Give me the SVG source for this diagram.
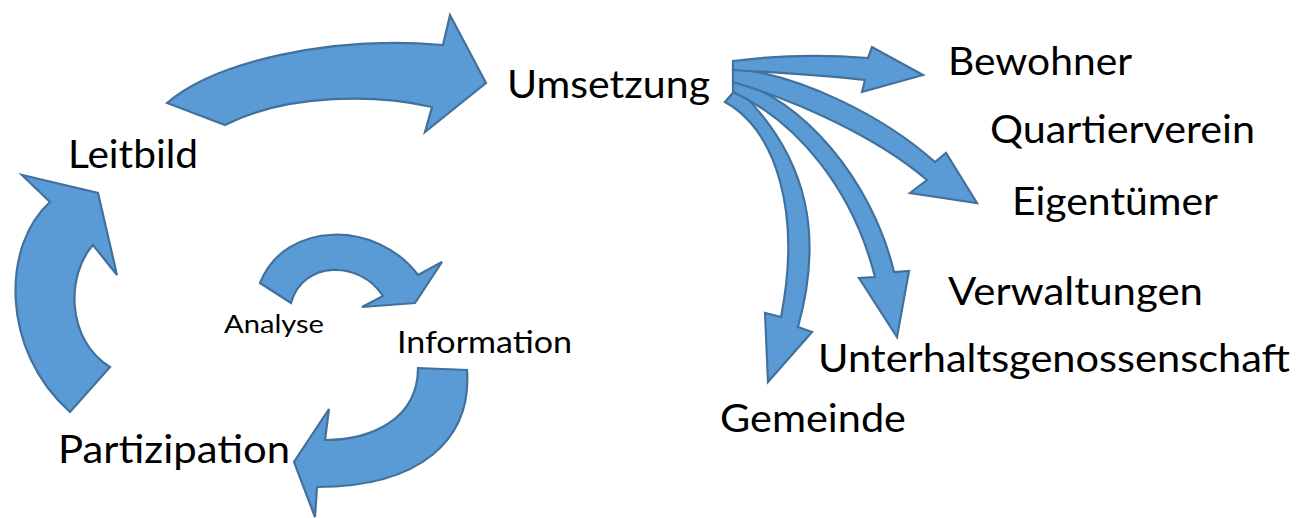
<svg xmlns="http://www.w3.org/2000/svg" width="1296" height="518" viewBox="0 0 1296 518">
<style>
.arrow{fill:#5B9BD5;stroke:#41719C;stroke-width:2.2;stroke-linejoin:miter}
.lbl{font-family:Lato,"Open Sans","Liberation Sans",sans-serif;fill:#000}
.big{font-size:39px}
.mid{font-size:30px}
.sm{font-size:25px}
</style>
<rect width="1296" height="518" fill="#fff"/>
<g id="connectors">
<path id="arr-leitbild-umsetzung" class="arrow" d="M167,103 C215,62 330,35 443,45 L450,15 L486,83 L425,132 L432,107 C380,95 290,92 225,125 Z"/>
<path id="arr-partizipation-leitbild" class="arrow" d="M50,202 C2,245 0,350 70,412 L110,367 C66,340 66,275 93,245 L117,275 L98,193 L22,175 Z"/>
<path id="arr-analyse-information" class="arrow" d="M260,283 C285,220 377,220 418,275 L442,262 L415,303 L362,307 L383,296 C360,260 303,260 291,303 Z"/>
<path id="arr-information-partizipation" class="arrow" d="M418,368 L467,370 C472,440 420,487 317,487 L315,517 L294,462 L329,409 L325,440 C370,440 418,420 418,368 Z"/>
<path id="arr-gemeinde" class="arrow" d="M725,102 C775,130 802,210 781,317 L765,313 L768,382 L812,332 L798,327 C822,240 812,160 737,88 Z"/>
<path id="arr-unterhalt" class="arrow" d="M733,80 C802,98 872,180 894,272 L909,271 L897,337 L859,278 L875,277 C853,190 798,122 733,92 Z"/>
<path id="arr-eigentuemer" class="arrow" d="M733,68 C802,76 882,115 935,162 L946,153 L977,203 L910,193 L927,180 C878,138 800,102 733,82 Z"/>
<path id="arr-bewohner" class="arrow" d="M733,61 C780,55 830,55 868,58 L872,47 L923,75 L862,92 L865,80 C820,75 770,72 733,70 Z"/>
</g>
<g id="node-umsetzung"><text class="lbl big" x="507" y="98" textLength="203" lengthAdjust="spacingAndGlyphs">Umsetzung</text></g>
<g id="node-leitbild"><text class="lbl big" x="68" y="168" textLength="130" lengthAdjust="spacingAndGlyphs">Leitbild</text></g>
<g id="node-partizipation"><text class="lbl big" x="58" y="463" textLength="232" lengthAdjust="spacingAndGlyphs">Partizipation</text></g>
<g id="node-analyse"><text class="lbl sm" x="224" y="333" textLength="100" lengthAdjust="spacingAndGlyphs">Analyse</text></g>
<g id="node-information"><text class="lbl mid" x="397" y="353" textLength="175" lengthAdjust="spacingAndGlyphs">Information</text></g>
<g id="node-bewohner"><text class="lbl big" x="948" y="75" textLength="184" lengthAdjust="spacingAndGlyphs">Bewohner</text></g>
<g id="node-quartierverein"><text class="lbl big" x="990" y="143" textLength="265" lengthAdjust="spacingAndGlyphs">Quartierverein</text></g>
<g id="node-eigentuemer"><text class="lbl big" x="1012" y="215" textLength="206" lengthAdjust="spacingAndGlyphs">Eigentümer</text></g>
<g id="node-verwaltungen"><text class="lbl big" x="948" y="305" textLength="255" lengthAdjust="spacingAndGlyphs">Verwaltungen</text></g>
<g id="node-unterhaltsgenossenschaft"><text class="lbl big" x="818" y="372" textLength="472" lengthAdjust="spacingAndGlyphs">Unterhaltsgenossenschaft</text></g>
<g id="node-gemeinde"><text class="lbl big" x="720" y="432" textLength="186" lengthAdjust="spacingAndGlyphs">Gemeinde</text></g>
</svg>
